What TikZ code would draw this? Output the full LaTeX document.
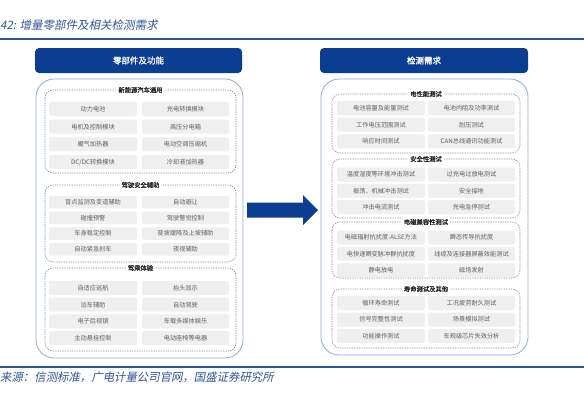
\documentclass[tikz,border=0pt]{standalone}
\usepackage{fontspec}
\setmainfont{Noto Sans CJK SC}[AutoFakeBold=1.2]
\newfontfamily\slantfont{Noto Sans CJK SC}[FakeSlant=0.2]
\definecolor{hdr}{HTML}{0B3D91}
\definecolor{outerc}{HTML}{8FAAD9}
\definecolor{cellc}{HTML}{EFEFEF}
\definecolor{celltxt}{HTML}{5F5F5F}
\definecolor{linec}{HTML}{2F5597}
\definecolor{grpc}{HTML}{8C8C8C}
\tikzset{
  header/.style={fill=hdr, rounded corners=4pt, text=white, inner sep=0pt,
    font=\bfseries\fontsize{8.5}{10}\selectfont},
  outerbox/.style={draw=outerc, line width=0.8pt, rounded corners=18pt, fill=white},
  grp/.style={draw=grpc, dash pattern=on 1.3pt off 1.1pt, line width=0.6pt, rounded corners=8pt},
  grptitle/.style={fill=white, inner sep=2pt, text=black!85,
    font=\bfseries\fontsize{6.3}{7}\selectfont},
  cell/.style={fill=cellc, rounded corners=2pt, text=celltxt, inner sep=0pt,
    font=\fontsize{6.2}{7}\selectfont},
  cellL/.style={cell, minimum width=88pt},
  cellR/.style={cell, minimum width=87pt},
  rule/.style={draw=linec, line width=1.6pt},
  note/.style={text=linec, inner sep=0pt, anchor=west},
}
\begin{document}
\begin{tikzpicture}[x=1pt,y=-1pt]
\useasboundingbox (0,0) rectangle (584,410);
% title and rules
\node[note, font=\slantfont\fontsize{11.5}{13}\selectfont] (title) at (0,25) {42: 增量零部件及相关检测需求};
\coordinate (tl) at (0,39); \coordinate (tr) at (584,39);
\draw[rule] (tl) -- (tr);
\coordinate (bl) at (0,367); \coordinate (br) at (584,367);
\draw[rule] (bl) -- (br);
\node[note, font=\slantfont\fontsize{11.4}{13}\selectfont] (source) at (0,377) {来源：信测标准，广电计量公司官网，国盛证券研究所};

% ---------------- left panel
\node[header, minimum width=207pt, minimum height=25pt] (lhead) at (138.5,60.5) {零部件及功能};
\draw[outerbox] (36,79) rectangle (243,358);
% group 1
\draw[grp] (45,90) rectangle (236,173);
\node[grptitle] (lg1) at (140.5,90) {新能源汽车通用};
\foreach \a/\b [count=\i] in {动力电池/充电转换模块, 电机及控制模块/高压分电箱, 暖气加热器/电动空调压缩机, {DC/DC转换模块}/冷却液加热器}{
  \node[cellL, minimum height=14pt] (la-\i-l) at (93,{109+17.7*(\i-1)}) {\a};
  \node[cellR, minimum height=14pt] (la-\i-r) at (185.5,{109+17.7*(\i-1)}) {\b};
}
% group 2
\draw[grp] (45,185) rectangle (236,262);
\node[grptitle] (lg2) at (140.5,185) {驾驶安全辅助};
\foreach \a/\b [count=\i] in {盲点监测及变道辅助/自动避让, 碰撞预警/驾驶警觉控制, 车身稳定控制/陡坡缓降及上坡辅助, 自动紧急刹车/夜视辅助}{
  \node[cellL, minimum height=12.5pt] (lb-\i-l) at (93,{202+15.8*(\i-1)}) {\a};
  \node[cellR, minimum height=12.5pt] (lb-\i-r) at (185.5,{202+15.8*(\i-1)}) {\b};
}
% group 3
\draw[grp] (45,268) rectangle (236,351);
\node[grptitle] (lg3) at (140.5,268) {驾乘体验};
\foreach \a/\b [count=\i] in {自适应巡航/抬头显示, 泊车辅助/自动驾驶, 电子后视镜/车载多媒体娱乐, 主动悬挂控制/电动座椅等电器}{
  \node[cellL, minimum height=14pt] (lc-\i-l) at (93,{288+16.7*(\i-1)}) {\a};
  \node[cellR, minimum height=14pt] (lc-\i-r) at (185.5,{288+16.7*(\i-1)}) {\b};
}

% ---------------- arrow
\fill[hdr] (247,202.5) -- (303,202.5) -- (303,195) -- (318,210) -- (303,225) -- (303,217.5) -- (247,217.5) -- cycle;

% ---------------- right panel
\node[header, minimum width=208pt, minimum height=25pt] (rhead) at (424,60.5) {检测需求};
\draw[outerbox] (321,79) rectangle (528,355);
% group 1
\draw[grp] (332,94) rectangle (520,153);
\node[grptitle] (rg1) at (426,94) {电性能测试};
\foreach \a/\b [count=\i] in {电池容量及能量测试/电池内阻及功率测试, 工作电压范围测试/耐压测试, 响应时间测试/CAN总线通讯功能测试}{
  \node[cellL, minimum height=14pt] (ra-\i-l) at (381,{108+16.7*(\i-1)}) {\a};
  \node[cellR, minimum height=14pt] (ra-\i-r) at (471.5,{108+16.7*(\i-1)}) {\b};
}
% group 2
\draw[grp] (332,159) rectangle (520,218);
\node[grptitle] (rg2) at (426,159) {安全性测试};
\foreach \a/\b [count=\i] in {温度湿度等环境冲击测试/过充电过放电测试, 振荡、机械冲击测试/安全接地, 冲击电流测试/充电急停测试}{
  \node[cellL, minimum height=14pt] (rb-\i-l) at (381,{174.5+16.3*(\i-1)}) {\a};
  \node[cellR, minimum height=14pt] (rb-\i-r) at (471.5,{174.5+16.3*(\i-1)}) {\b};
}
% group 3
\draw[grp] (332,222) rectangle (520,278);
\node[grptitle] (rg3) at (426,222) {电磁兼容性测试};
\foreach \a/\b [count=\i] in {电磁辐射抗扰度-ALSE方法/瞬态传导抗扰度, 电快速瞬变脉冲群抗扰度/线缆及连接器屏蔽效能测试, 静电放电/磁场发射}{
  \node[cellL, minimum height=13.5pt] (rc-\i-l) at (381,{237.5+16.3*(\i-1)}) {\a};
  \node[cellR, minimum height=13.5pt] (rc-\i-r) at (471.5,{237.5+16.3*(\i-1)}) {\b};
}
% group 4
\draw[grp] (332,289) rectangle (520,348);
\node[grptitle] (rg4) at (426,289) {寿命测试及其他};
\foreach \a/\b [count=\i] in {循环寿命测试/工况疲劳耐久测试, 信号完整性测试/场景模拟测试, 功能操作测试/车规级芯片失效分析}{
  \node[cellL, minimum height=14pt] (rd-\i-l) at (381,{303+16.5*(\i-1)}) {\a};
  \node[cellR, minimum height=14pt] (rd-\i-r) at (471.5,{303+16.5*(\i-1)}) {\b};
}
\end{tikzpicture}
\end{document}
